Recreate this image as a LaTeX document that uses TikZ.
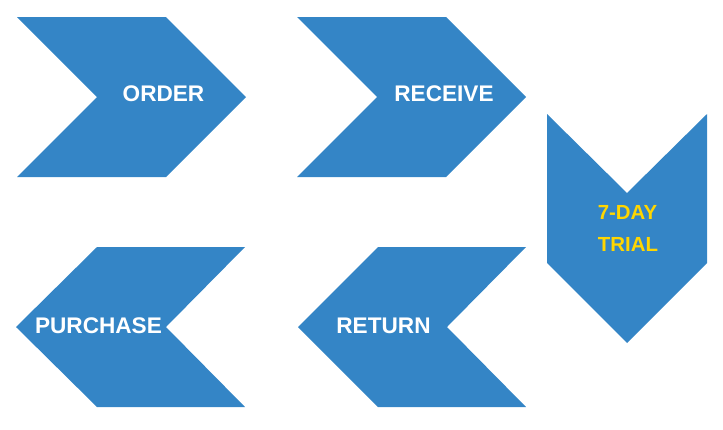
\documentclass[tikz,border=0pt]{standalone}
\usepackage{fontspec}
\setmainfont{Liberation Sans}
\definecolor{chevblue}{RGB}{52,133,198}
\definecolor{chevyellow}{RGB}{255,214,0}
\begin{document}
\begin{tikzpicture}[x=1pt,y=-1pt,
  chev/.style={fill=chevblue},
  lbl/.style={font=\fontsize{22.6}{25}\selectfont\bfseries, text=white, inner sep=0pt, anchor=center},
  ylbl/.style={lbl, text=chevyellow, font=\fontsize{20.4}{23}\selectfont\bfseries}]
\useasboundingbox (0,0) rectangle (723,429);
% right-pointing chevrons
\fill[chev] (17,17) -- (166,17) -- (246,97) -- (166,177) -- (17,177) -- (97,97) -- cycle;
\fill[chev] (297,17) -- (446,17) -- (526,97) -- (446,177) -- (297,177) -- (377,97) -- cycle;
% down-pointing chevron
\fill[chev] (547,114) -- (627,193) -- (707,114) -- (707,263) -- (627,343) -- (547,263) -- cycle;
% left-pointing chevrons
\fill[chev] (97,247) -- (245,247) -- (166,327) -- (245,407) -- (97,407) -- (16,327) -- cycle;
\fill[chev] (378,247) -- (526,247) -- (447,327) -- (526,407) -- (378,407) -- (298,327) -- cycle;
% labels
\node[lbl] (order) at (163.5,94) {ORDER};
\node[lbl] (receive) at (444,94) {RECEIVE};
\node[ylbl] (day) at (627.5,212) {7-DAY};
\node[ylbl] (trial) at (628,244) {TRIAL};
\node[lbl] (purchase) at (98.5,326) {PURCHASE};
\node[lbl] (return) at (383.5,326) {RETURN};
\end{tikzpicture}
\end{document}
